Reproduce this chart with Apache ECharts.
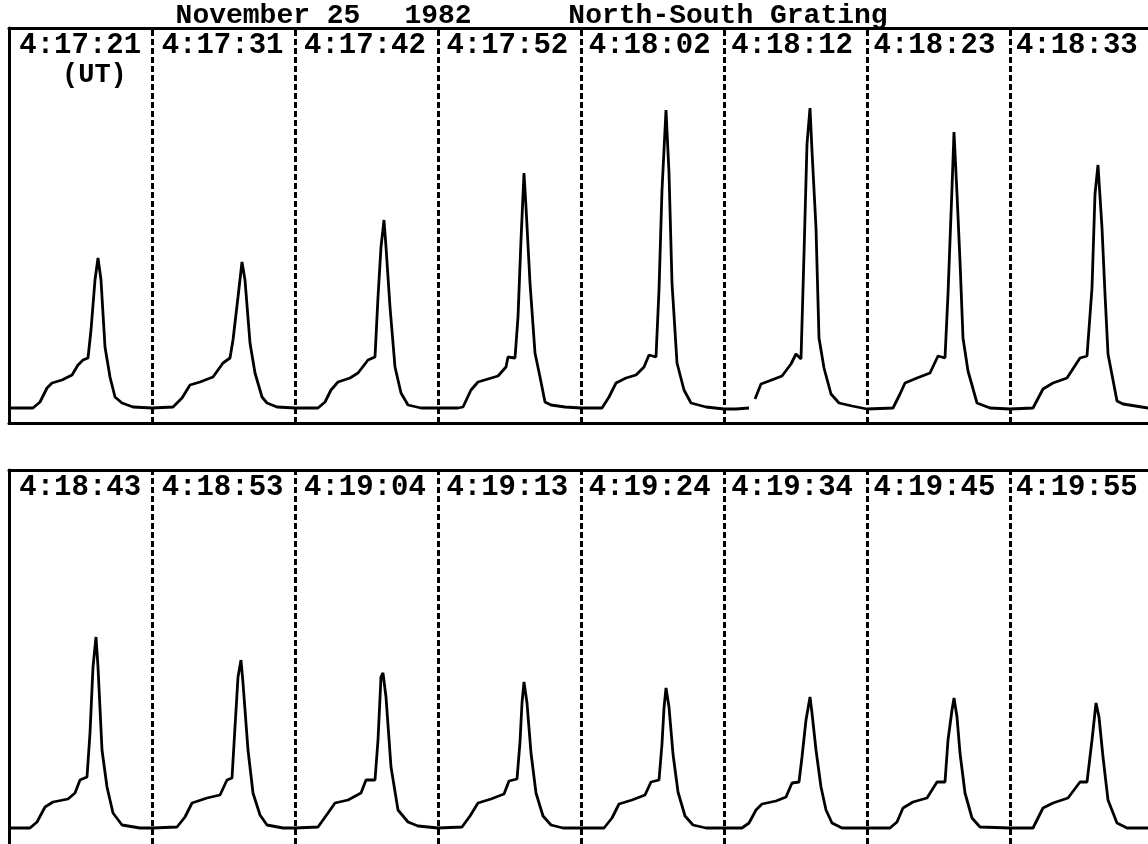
<!DOCTYPE html>
<html>
<head>
<meta charset="utf-8">
<script src="https://cdn.jsdelivr.net/npm/echarts@6/dist/echarts.min.js"></script>
<style>
  html, body { margin: 0; padding: 0; background: #fff; }
  #chart { width: 1148px; height: 844px; }
</style>
</head>
<body>
<div id="chart"></div>
<script>
// ---- Data (scan bin within a 143-bin scan, intensity above baseline) ----
const titleText = 'November 25  1982    North-South Grating';
const topLabels = ['4:17:21', '4:17:31', '4:17:42', '4:17:52', '4:18:02', '4:18:12', '4:18:23', '4:18:33'];
const bottomLabels = ['4:18:43', '4:18:53', '4:19:04', '4:19:13', '4:19:24', '4:19:34', '4:19:45', '4:19:55'];
const scanLength = 143;
const scanCount = 8;

const top1 = [[1,0],[24,0],[31,6],[38,20],[43,25],[53,28],[63,33],[69,43],[74,48],[79,50],[82,78],[86,128],[89,150],[92,128],[96,61],[101,31],[106,11],[113,5],[124,1],[143,0]];
const top2 = [[0,0],[21,1],[30,10],[38,23],[48,26],[61,31],[71,45],[78,50],[81,68],[86,111],[90,146],[93,128],[98,65],[103,35],[110,11],[115,5],[125,1],[143,0]];
const top3 = [[0,0],[23,0],[30,6],[36,18],[43,26],[55,30],[63,35],[73,48],[80,51],[83,111],[86,161],[89,188],[91,161],[95,101],[100,41],[106,15],[113,3],[126,0],[143,0]];
const top4 = [[0,0],[20,0],[25,1],[33,18],[40,26],[50,29],[60,32],[68,41],[70,51],[77,50],[80,91],[83,168],[86,235],[88,201],[92,125],[97,55],[102,31],[107,6],[113,3],[127,1],[143,0]];
const top5 = [[0,0],[21,0],[28,11],[35,25],[45,30],[55,33],[63,41],[68,53],[75,51],[78,118],[81,218],[85,298],[88,235],[91,125],[96,45],[103,18],[110,5],[125,1],[143,-1]];
const top6 = [[0,-1],[12,-1],[25,0],[28,'-'],[31,9],[37,24],[45,27],[58,32],[67,44],[72,54],[77,49],[80,154],[83,264],[86,300],[88,257],[92,180],[95,70],[100,40],[107,14],[115,5],[128,2],[143,-1]];
const top7 = [[0,0],[26,0],[33,14],[38,25],[50,30],[63,35],[71,52],[78,50],[81,114],[85,220],[87,276],[90,214],[93,147],[96,70],[101,37],[110,5],[123,0],[143,-1]];
const top8 = [[0,-1],[23,0],[33,19],[43,25],[57,30],[70,50],[77,52],[82,120],[85,214],[88,243],[92,180],[95,114],[98,54],[107,7],[113,4],[138,0],[143,0]];

const bottom1 = [[1,0],[21,0],[28,6],[36,21],[44,26],[59,29],[66,35],[71,48],[78,51],[81,95],[84,161],[87,191],[89,161],[93,78],[98,41],[104,15],[113,3],[131,0],[143,0]];
const bottom2 = [[0,0],[25,1],[33,11],[40,25],[55,30],[68,33],[75,48],[80,50],[83,101],[86,151],[89,168],[91,145],[96,78],[101,35],[108,13],[115,3],[131,0],[143,0]];
const bottom3 = [[0,0],[23,1],[33,15],[40,25],[53,28],[66,35],[71,48],[80,48],[83,88],[86,151],[88,155],[91,131],[96,61],[103,18],[113,6],[123,2],[143,0]];
const bottom4 = [[0,0],[24,1],[32,12],[40,25],[53,29],[66,34],[71,47],[79,49],[82,86],[84,125],[86,146],[89,125],[93,75],[98,35],[105,12],[113,3],[125,0],[143,0]];
const bottom5 = [[0,0],[23,0],[31,10],[38,24],[51,28],[64,33],[70,46],[78,48],[81,84],[83,120],[85,140],[88,121],[92,74],[97,36],[104,12],[112,3],[125,0],[143,0]];
const bottom6 = [[0,0],[18,0],[25,5],[32,18],[38,24],[52,27],[62,31],[68,45],[75,46],[78,71],[82,108],[86,131],[88,115],[92,78],[97,41],[102,18],[108,5],[118,0],[143,0]];
const bottom7 = [[0,0],[23,0],[30,6],[36,20],[46,26],[60,30],[70,46],[78,46],[81,88],[85,118],[87,130],[90,111],[93,75],[98,35],[105,10],[113,1],[143,0]];
const bottom8 = [[0,0],[23,0],[33,20],[43,25],[58,30],[70,46],[77,46],[82,88],[86,125],[89,111],[93,71],[98,28],[107,5],[117,0],[138,0]];

const topScans = [top1, top2, top3, top4, top5, top6, top7, top8];
const bottomScans = [bottom1, bottom2, bottom3, bottom4, bottom5, bottom6, bottom7, bottom8];

// place each scan after the previous one along a common axis
function joinScans(scans) {
  const out = [];
  scans.forEach(function (scan, i) {
    scan.forEach(function (p) { out.push([i * scanLength + p[0], p[1]]); });
  });
  return out;
}
// scan boundaries (dashed separators)
const boundaries = [];
for (let i = 1; i < scanCount; i++) boundaries.push({ xAxis: i * scanLength });

const FONT = "'Liberation Mono', 'Courier New', monospace";
const BORDER = { color: '#000', width: 3 };
const chart = echarts.init(document.getElementById('chart'), null, { renderer: 'canvas' });

const plotWidth = 1139; // visible part of the panels (they run off the right edge)

// typewriter-spaced title: each phrase centred where it sits in the original
const titlePieces = titleText.split(/\s{2,}/);
const titlePieceCenters = [268, 438, 728];
const titleGraphics = titlePieces.map(function (w, i) {
  return {
    type: 'text', x: titlePieceCenters[i], y: 16, silent: true,
    style: { text: w, fill: '#000', align: 'center', verticalAlign: 'middle',
             font: "bold 28px 'Liberation Mono', 'Courier New', monospace" }
  };
});

function valueAxis(gi, showLine) {
  return {
    type: 'value', gridIndex: gi, min: 0, max: plotWidth,
    axisLine: { show: showLine, onZero: false, lineStyle: BORDER },
    axisTick: { show: false }, axisLabel: { show: false }, splitLine: { show: false }
  };
}
function labelAxis(gi, labels) {
  return {
    type: 'category', gridIndex: gi, position: 'top', data: labels,
    axisLine: { show: true, onZero: false, lineStyle: BORDER },
    axisTick: { show: false }, splitLine: { show: false },
    axisLabel: {
      inside: true, interval: 0, margin: 18, verticalAlign: 'middle',
      fontFamily: FONT, fontSize: 29, fontWeight: 'bold', color: '#000'
    }
  };
}
function yAxis(gi, min, max) {
  return {
    type: 'value', gridIndex: gi, min: min, max: max,
    axisLine: { show: true, onZero: false, lineStyle: BORDER },
    axisTick: { show: false }, axisLabel: { show: false }, splitLine: { show: false }
  };
}
function separators() {
  return {
    silent: true, symbol: ['none', 'none'], animation: false,
    label: { show: false },
    lineStyle: { color: '#000', width: 3, type: [6, 3] },
    data: boundaries
  };
}

const option = {
  animation: false,
  backgroundColor: '#fff',
  title: [
    { text: '(UT)', left: 62, top: 62, padding: 0,
      textStyle: { fontFamily: FONT, fontSize: 27, fontWeight: 'bold', color: '#000' } }
  ],
  graphic: titleGraphics,
  grid: [
    { left: 9, top: 28, width: plotWidth, height: 395 },
    { left: 9, top: 470, width: plotWidth, height: 374 }
  ],
  xAxis: [valueAxis(0, true), labelAxis(0, topLabels), valueAxis(1, false), labelAxis(1, bottomLabels)],
  yAxis: [yAxis(0, -15, 380), yAxis(1, -16, 358)],
  series: [
    { type: 'line', xAxisIndex: 0, yAxisIndex: 0, data: joinScans(topScans),
      showSymbol: false, symbol: 'none', connectNulls: false,
      lineStyle: { color: '#000', width: 2.8 }, z: 5, markLine: separators() },
    { type: 'line', xAxisIndex: 2, yAxisIndex: 1, data: joinScans(bottomScans),
      showSymbol: false, symbol: 'none',
      lineStyle: { color: '#000', width: 2.8 }, z: 5, markLine: separators() }
  ]
};
chart.setOption(option);
</script>
</body>
</html>
